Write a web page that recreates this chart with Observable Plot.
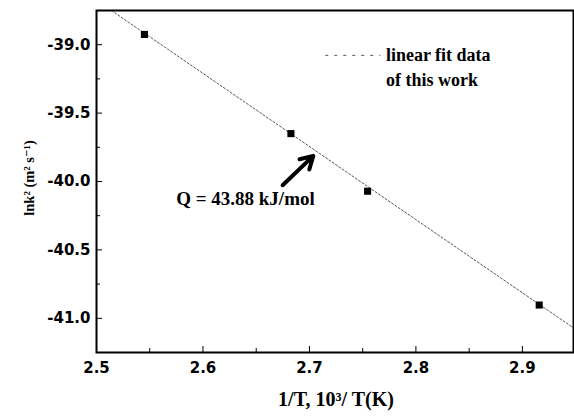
<!DOCTYPE html>
<html><head><meta charset="utf-8">
<script src="https://cdn.jsdelivr.net/npm/d3@7"></script>
<script src="https://cdn.jsdelivr.net/npm/@observablehq/plot@0.6"></script>
<style>body{margin:0;background:#fff}</style>
</head><body><div id="chart"></div>
<script>
const invT = [2.545, 2.6826, 2.7546, 2.9158];
const lnk2 = [-38.925, -39.65, -40.071, -40.903];
const fitX = [2.514, 2.948];
const fitY = [-38.75, -41.07];
const xMajor = [2.5, 2.6, 2.7, 2.8, 2.9];
const xMinor = [2.55, 2.65, 2.75, 2.85];
const yMajor = [-39.0, -39.5, -40.0, -40.5, -41.0];
const yMinor = [-39.25, -39.75, -40.25, -40.75];
const annText = "Q = 43.88 kJ/mol";
const annPos = [2.6399, -40.124];
const arrowFrom = [2.6748, -40.027];
const arrowTo = [2.7036, -39.813];
const legendLabels = ["linear fit data", "of this work"];
const legendLineX = [2.7153, 2.767];
const legendTextX = 2.7718;
const legendY = [-39.078, -39.26];

const points = invT.map((x, i) => ({x, y: lnk2[i]}));
const fit = fitX.map((x, i) => ({x, y: fitY[i]}));
const serif = "'Liberation Serif', 'DejaVu Serif', serif";
const sans = "'DejaVu Sans', 'Liberation Sans', Arial, sans-serif";
const fmt = d => d.toFixed(1);

const chart = Plot.plot({
  width: 574, height: 419,
  marginLeft: 96, marginRight: 1, marginTop: 10, marginBottom: 67,
  style: {fontFamily: sans, background: "#fff"},
  x: {domain: [2.5, 2.948]},
  y: {domain: [-41.25, -38.75]},
  marks: [
    Plot.line(fit, {x: "x", y: "y", stroke: "#555", strokeWidth: 1, strokeDasharray: "2,2"}),
    Plot.dot(points, {x: "x", y: "y", symbol: "square", r: 4, fill: "#000"}),
    Plot.arrow([0], {x1: arrowFrom[0], y1: arrowFrom[1], x2: arrowTo[0], y2: arrowTo[1], stroke: "#000", strokeWidth: 4, headLength: 12}),
    Plot.text([annText], {x: annPos[0], y: annPos[1], text: d => d, fontFamily: serif, fontWeight: "bold", fontSize: 19, fill: "#000"}),
    Plot.ruleY([0], {y: legendY[0], x1: legendLineX[0], x2: legendLineX[1], stroke: "#555", strokeWidth: 1, strokeDasharray: "3,6"}),
    Plot.text(legendLabels, {x: legendTextX, y: (d, i) => legendY[i], text: d => d, textAnchor: "start", fontFamily: serif, fontWeight: "bold", fontSize: 18, fill: "#000"}),
    Plot.axisX({ticks: xMajor, tickSize: 0, tickPadding: 10, tickFormat: fmt, label: null}),
    Plot.axisX({ticks: xMajor, tickSize: -6, text: null, label: null}),
    Plot.axisX({ticks: xMinor, tickSize: -4, text: null, label: null}),
    Plot.axisY({ticks: yMajor, tickSize: 0, tickPadding: 6, tickFormat: fmt, label: null}),
    Plot.axisY({ticks: yMajor, tickSize: -6, text: null, label: null}),
    Plot.axisY({ticks: yMinor, tickSize: -4, text: null, label: null}),
    Plot.frame({stroke: "#000", strokeWidth: 2})
  ]
});

const svg = d3.select(chart);
svg.selectAll("g[aria-label='x-axis tick label'] text, g[aria-label='y-axis tick label'] text")
  .style("font-family", sans).style("font-size", "15px").style("font-weight", "bold");
svg.append("text")
  .attr("x", 336).attr("y", 406)
  .attr("text-anchor", "middle")
  .style("font-family", serif).style("font-weight", "bold").style("font-size", "20px")
  .text("1/T, 10³/ T(K)");
svg.append("text")
  .attr("transform", "translate(34,178) rotate(-90)")
  .attr("text-anchor", "middle")
  .style("font-family", serif).style("font-weight", "bold").style("font-size", "14.5px")
  .text("lnk² (m² s⁻¹)");
document.getElementById("chart").appendChild(chart);
</script></body></html>
